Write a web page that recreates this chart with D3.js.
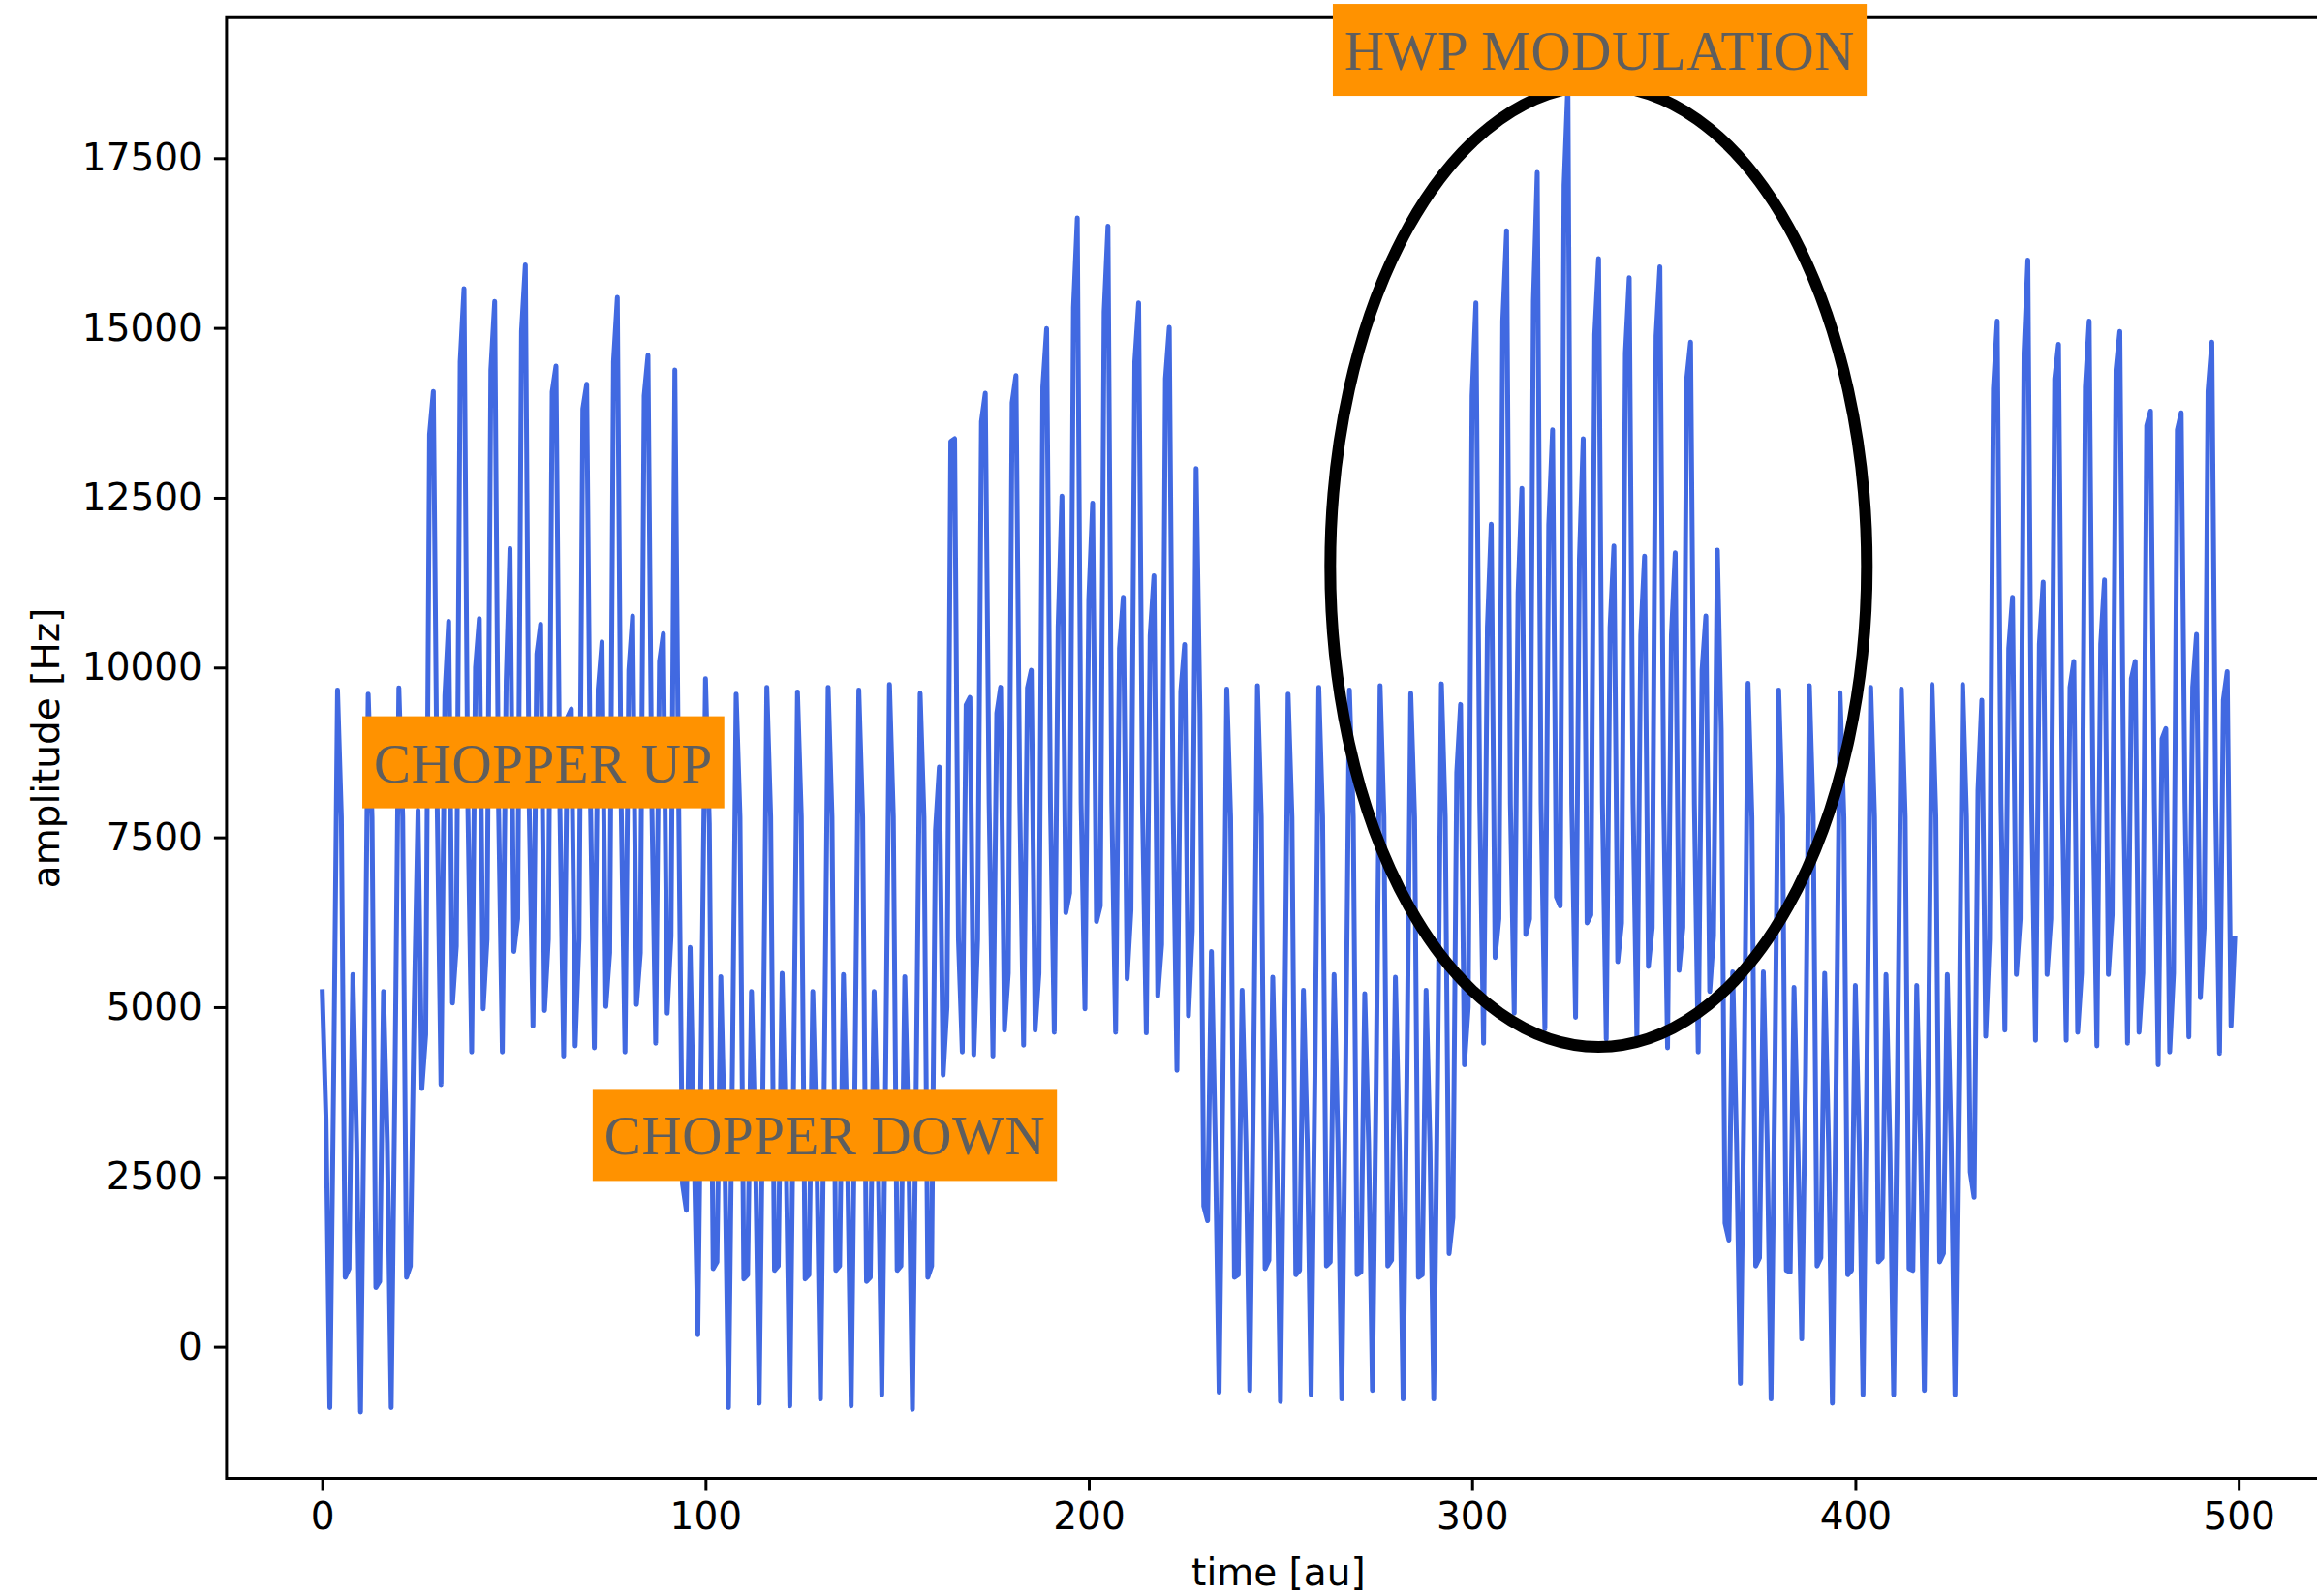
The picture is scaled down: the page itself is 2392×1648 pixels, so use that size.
<!DOCTYPE html>
<html>
<head>
<meta charset="utf-8">
<script src="https://cdn.jsdelivr.net/npm/d3@7"></script>
<style>
    body { margin: 0; background: #fff; }
    svg { display: block; }
</style>
</head>
<body>
<div id="chart"></div>
<script>

// amplitude [Hz] per time step (time = sample index)
var amplitude = [
    5265, 3360, -896, 4000, 9670, 7800, 1020, 1150, 5480, 3000, -960, 4000, 9610, 7800, 870, 960, 5230, 3000, -896, 4000,
    9700, 7800, 1020, 1190, 5000, 7900, 3800, 4600, 13430, 14066, 8000, 3860, 9583, 10680, 5060, 5900, 14500, 15580, 8000, 4340,
    10000, 10720, 4975, 6000, 14380, 15390, 8000, 4340, 9800, 11755, 5820, 6300, 14950, 15930, 8000, 4720, 10200, 10640, 4950, 6000,
    14060, 14440, 8000, 4280, 9270, 9390, 4430, 6000, 13810, 14170, 8000, 4400, 9680, 10380, 5010, 5800, 14500, 15450, 8000, 4340,
    9960, 10760, 5040, 5800, 14000, 14600, 8000, 4470, 10090, 10500, 4910, 6050, 14380, 8000, 2400, 2010, 5880, 3000, 177, 5000,
    9836, 7700, 1150, 1250, 5450, 3000, -896, 4000, 9610, 7800, 997, 1060, 5230, 3000, -833, 4000, 9710, 7800, 1124, 1190,
    5500, 3000, -870, 4000, 9640, 7800, 997, 1060, 5230, 3000, -770, 4000, 9710, 7800, 1124, 1190, 5480, 3000, -870, 4000,
    9670, 7800, 960, 1020, 5230, 3000, -707, 4000, 9750, 7800, 1124, 1190, 5450, 3000, -920, 4000, 9620, 7800, 1020, 1190,
    7600, 8535, 4000, 5000, 13330, 13370, 6000, 4340, 9450, 9560, 4300, 6000, 13620, 14040, 8000, 4280, 9330, 9710, 4660, 5500,
    13900, 14300, 8000, 4440, 9700, 9960, 4660, 5500, 14130, 14990, 8000, 4630, 10600, 12525, 6390, 6680, 15300, 16620, 8000, 4975,
    11000, 12420, 6260, 6490, 15240, 16500, 8000, 4630, 10280, 11035, 5417, 6430, 14500, 15370, 8000, 4620, 10470, 11350, 5164, 5920,
    14250, 15010, 8000, 4070, 9650, 10340, 4870, 6120, 12930, 9330, 2070, 1855, 5820, 3000, -670, 4000, 9684, 7800, 1020, 1060,
    5250, 3000, -644, 4000, 9735, 7800, 1150, 1275, 5440, 3000, -808, 4000, 9610, 7800, 1060, 1124, 5250, 3000, -707, 4000,
    9710, 7800, 1190, 1250, 5480, 3000, -770, 4000, 9670, 7800, 1060, 1100, 5200, 3000, -644, 4000, 9735, 7800, 1190, 1275,
    5440, 3000, -770, 4000, 9620, 7800, 1020, 1060, 5250, 3000, -770, 4000, 9760, 7800, 1370, 1900, 8450, 9457, 4150, 5000,
    14000, 15370, 8000, 4470, 10590, 12110, 5730, 6300, 15100, 16430, 8000, 4910, 11100, 12640, 6070, 6300, 15400, 17290, 8000, 4680,
    12100, 13500, 6620, 6490, 17100, 18590, 8000, 4850, 11600, 13370, 6240, 6360, 14900, 16020, 8000, 4530, 10590, 11790, 5670, 6240,
    14630, 15740, 8000, 4530, 10470, 11640, 5600, 6170, 14880, 15900, 8000, 4400, 10470, 11690, 5540, 6170, 14250, 14790, 8000, 4340,
    9960, 10760, 5230, 6050, 11730, 9080, 1820, 1570, 5520, 3000, -540, 4000, 9770, 7800, 1190, 1310, 5520, 3000, -770, 4000,
    9670, 7800, 1124, 1100, 5290, 3000, 114, 4000, 9735, 7800, 1190, 1310, 5500, 3000, -833, 4000, 9630, 7800, 1060, 1124,
    5320, 3000, -707, 4000, 9710, 7800, 1250, 1310, 5480, 3000, -707, 4000, 9685, 7800, 1150, 1124, 5320, 3000, -644, 4000,
    9750, 7800, 1250, 1376, 5480, 3000, -707, 4000, 9750, 7800, 2575, 2200, 8200, 9520, 4570, 6000, 14100, 15100, 8000, 4660,
    10280, 11035, 5480, 6300, 14630, 16000, 8000, 4510, 10340, 11260, 5480, 6300, 14250, 14760, 8000, 4510, 9710, 10090, 4630, 5500,
    14130, 15100, 8000, 4430, 10340, 11290, 5480, 6360, 14380, 14950, 8000, 4470, 9836, 10090, 4630, 5500, 13560, 13775, 8000, 4150,
    8950, 9100, 4340, 5500, 13500, 13750, 8000, 4560, 9710, 10490, 5140, 6170, 14070, 14790, 8000, 4320, 9520, 9940, 4720, 6050
];

var xTicks = [0, 100, 200, 300, 400, 500];
var yTicks = [0, 2500, 5000, 7500, 10000, 12500, 15000, 17500];

// annotation labels, anchored at text left / baseline in data units
var labelTexts = ['CHOPPER UP', 'CHOPPER DOWN', 'HWP MODULATION'];
var labelX = [13.5, 73.6, 266.7];
var labelY = [8313, 2826, 18801];

// ellipse around the modulated part: centre and full width/height in data units
var ringCenter = [333, 11490];
var ringSize = [140, 14150];

var W = 2392, H = 1648;
var margin = {left: 233.9, right: 2405.9, top: 18.3, bottom: 1526.5};
var fontSize = '39px';

var svg = d3.select('#chart')
    .append('svg')
    .attr('width', W)
    .attr('height', H);

svg.append('rect')
    .attr('width', W)
    .attr('height', H)
    .attr('fill', '#fff');

// matplotlib style 5% margins
var n = amplitude.length;
var xPad = (n - 1) * 0.05;
var yExt = d3.extent(amplitude);
var yPad = (yExt[1] - yExt[0]) * 0.05;

var x = d3.scaleLinear()
    .domain([-xPad, n - 1 + xPad])
    .range([margin.left, margin.right]);

var y = d3.scaleLinear()
    .domain([yExt[0] - yPad, yExt[1] + yPad])
    .range([margin.bottom, margin.top]);

// clip
svg.append('clipPath')
    .attr('id', 'clip')
    .append('rect')
    .attr('x', margin.left)
    .attr('y', margin.top)
    .attr('width', margin.right - margin.left)
    .attr('height', margin.bottom - margin.top);

// signal
var line = d3.line()
    .x(function(d, i) { return x(i); })
    .y(function(d) { return y(d); });

svg.append('path')
    .datum(amplitude)
    .attr('clip-path', 'url(#clip)')
    .attr('fill', 'none')
    .attr('stroke', '#4169e1')
    .attr('stroke-width', 5)
    .attr('stroke-linejoin', 'round')
    .attr('d', line);

// ellipse
svg.append('ellipse')
    .attr('cx', x(ringCenter[0]))
    .attr('cy', y(ringCenter[1]))
    .attr('rx', x(ringCenter[0] + ringSize[0] / 2) - x(ringCenter[0]))
    .attr('ry', y(ringCenter[1]) - y(ringCenter[1] + ringSize[1] / 2))
    .attr('fill', 'none')
    .attr('stroke', '#000')
    .attr('stroke-width', 12);

// axes
var xAxis = d3.axisBottom(x)
    .tickValues(xTicks)
    .tickFormat(d3.format('d'))
    .tickSize(13)
    .tickPadding(12)
    .tickSizeOuter(0);

var yAxis = d3.axisLeft(y)
    .tickValues(yTicks)
    .tickFormat(d3.format('d'))
    .tickSize(13)
    .tickPadding(12)
    .tickSizeOuter(0);

var gx = svg.append('g')
    .attr('transform', 'translate(0,' + margin.bottom + ')')
    .call(xAxis);

var gy = svg.append('g')
    .attr('transform', 'translate(' + margin.left + ',0)')
    .call(yAxis);

[gx, gy].forEach(function(g) {
    g.select('.domain').remove();
    g.selectAll('.tick line').attr('stroke', '#000').attr('stroke-width', 3);
    g.selectAll('.tick text')
        .attr('fill', '#000')
        .style('font-family', '"DejaVu Sans", sans-serif')
        .style('font-size', fontSize);
});

// spines (left, top, bottom)
svg.append('path')
    .attr('d', 'M' + margin.right + ',' + margin.top + 'H' + margin.left + 'V' + margin.bottom + 'H' + margin.right)
    .attr('fill', 'none')
    .attr('stroke', '#000')
    .attr('stroke-width', 3)
    .attr('stroke-linecap', 'square');

// axis labels
svg.append('text')
    .attr('x', (margin.left + margin.right) / 2)
    .attr('y', 1637)
    .attr('text-anchor', 'middle')
    .style('font-family', '"DejaVu Sans", sans-serif')
    .style('font-size', fontSize)
    .text('time [au]');

svg.append('text')
    .attr('transform', 'translate(61,' + ((margin.top + margin.bottom) / 2) + ') rotate(-90)')
    .attr('text-anchor', 'middle')
    .style('font-family', '"DejaVu Sans", sans-serif')
    .style('font-size', fontSize)
    .text('amplitude [Hz]');

// annotation boxes
labelTexts.forEach(function(d, i) {
    var g = svg.append('g');
    var t = g.append('text')
        .attr('x', x(labelX[i]))
        .attr('y', y(labelY[i]))
        .attr('fill', '#5e5e5e')
        .style('font-family', '"Liberation Serif", serif')
        .style('font-size', '57px')
        .style('letter-spacing', '0.6px')
        .text(d);
    var bb = t.node().getBBox();
    g.insert('rect', 'text')
        .attr('x', bb.x - 12)
        .attr('y', bb.y - 17)
        .attr('width', bb.width + 24)
        .attr('height', bb.height + 32)
        .attr('fill', '#ff9200');
});

</script>
</body>
</html>
